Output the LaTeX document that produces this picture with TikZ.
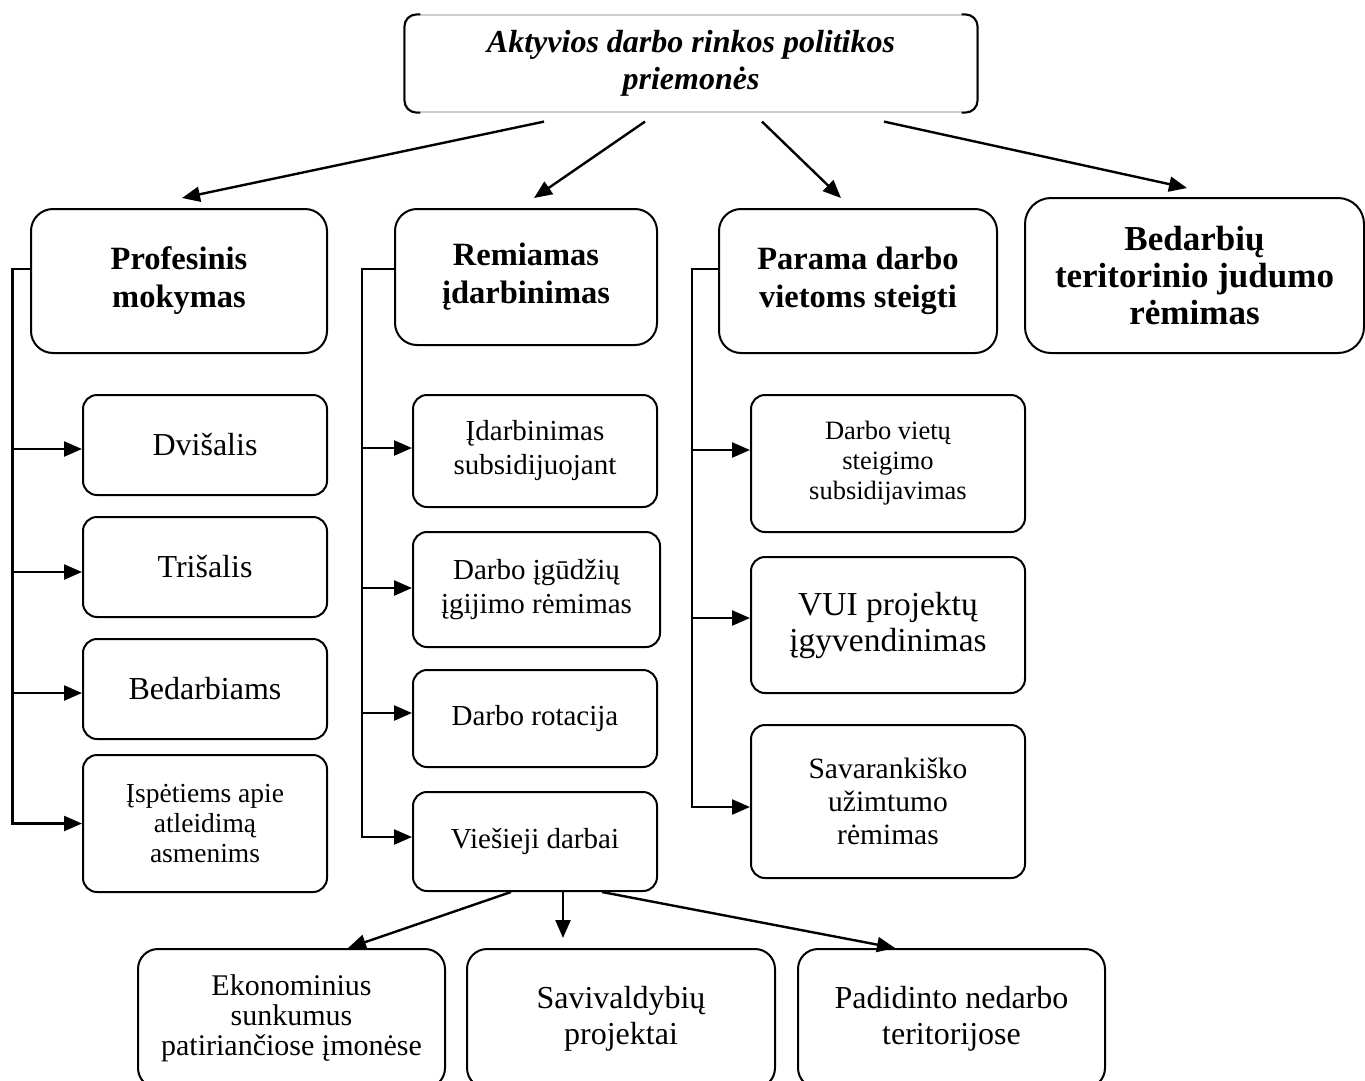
\documentclass[tikz,border=0pt]{standalone}
\usepackage{fontspec}
\setmainfont{Liberation Serif}
\usetikzlibrary{arrows.meta}
\tikzset{
  box/.style={draw, line width=2pt, rounded corners=14pt, align=center, inner sep=4pt},
  topbox/.style={draw=gray!60, line width=1.2pt, rounded corners=12pt, align=center,
    font=\bfseries\itshape\fontsize{32}{37}\selectfont},
  headbox/.style={box, rounded corners=22pt, font=\bfseries\fontsize{32.5}{38}\selectfont},
  bigbox/.style={box, font=\fontsize{32}{36}\selectfont},
  midbox/.style={box, font=\fontsize{29}{34}\selectfont},
  smallbox/.style={box, font=\fontsize{26.5}{30}\selectfont},
  arr/.style={line width=2.4pt, -{Triangle[length=18pt,width=15pt]}},
}
\begin{document}
\begin{tikzpicture}[x=1pt, y=-1pt]
  \useasboundingbox (0,0) rectangle (1365,1080);

  % top box
  \node[topbox, minimum width=572pt, minimum height=97pt] (top) at (691,63.5)
    {Aktyvios darbo rinkos politikos\\priemonės};
  \draw[line width=2pt, rounded corners=12pt] ([xshift=16pt]top.north west) -- (top.north west)
    -- (top.south west) -- ([xshift=16pt]top.south west);
  \draw[line width=2pt, rounded corners=12pt] ([xshift=-16pt]top.north east) -- (top.north east)
    -- (top.south east) -- ([xshift=-16pt]top.south east);

  % headers
  \node[headbox, minimum width=296pt, minimum height=144pt] (prof) at (179,281) {Profesinis\\mokymas};
  \node[headbox, minimum width=262pt, minimum height=136pt] (rem) at (526,277) {Remiamas\\įdarbinimas};
  \node[headbox, minimum width=278pt, minimum height=144pt] (param) at (858,281) {Parama darbo\\vietoms steigti};
  \node[headbox, minimum width=339pt, minimum height=155pt, rounded corners=26pt,
    font=\bfseries\fontsize{35}{37}\selectfont] (bedarb) at (1194.5,275.5)
    {Bedarbių\\teritorinio judumo\\rėmimas};

  % profesinis mokymas
  \node[bigbox, minimum width=244pt, minimum height=100pt] (dvi) at (205,445) {Dvišalis};
  \node[bigbox, minimum width=244pt, minimum height=100pt] (tri) at (205,567) {Trišalis};
  \node[bigbox, minimum width=244pt, minimum height=100pt] (bedarbiams) at (205,689) {Bedarbiams};
  \node[smallbox, minimum width=244pt, minimum height=137pt, font=\fontsize{27.5}{30}\selectfont] (ispet) at (205,823.5)
    {Įspėtiems apie\\atleidimą\\asmenims};

  % remiamas idarbinimas
  \node[midbox, minimum width=244pt, minimum height=112pt] (idarb) at (535,451) {Įdarbinimas\\subsidijuojant};
  \node[midbox, minimum width=247pt, minimum height=115pt] (igud) at (536.5,589.5) {Darbo įgūdžių\\įgijimo rėmimas};
  \node[midbox, minimum width=244pt, minimum height=97pt] (rot) at (535,718.5) {Darbo rotacija};
  \node[midbox, minimum width=244pt, minimum height=99pt] (vies) at (535,841.5) {Viešieji darbai};

  % parama darbo vietoms steigti
  \node[smallbox, minimum width=274pt, minimum height=137pt] (dvsub) at (888,463.5)
    {Darbo vietų\\steigimo\\subsidijavimas};
  \node[bigbox, minimum width=274pt, minimum height=136pt, font=\fontsize{33.5}{36}\selectfont] (vui) at (888,625)
    {VUI projektų\\įgyvendinimas};
  \node[midbox, minimum width=274pt, minimum height=153pt, font=\fontsize{29.5}{33}\selectfont] (savar) at (888,801.5)
    {Savarankiško\\užimtumo\\rėmimas};

  % viesieji darbai
  \node[smallbox, minimum width=307pt, minimum height=139pt, rounded corners=20pt,
    font=\fontsize{30}{30}\selectfont] (ekon) at (291.5,1018.5)
    {Ekonominius\\sunkumus\\patiriančiose įmonėse};
  \node[bigbox, minimum width=308pt, minimum height=139pt, rounded corners=20pt] (saviv) at (621,1018.5)
    {Savivaldybių\\projektai};
  \node[bigbox, minimum width=307pt, minimum height=139pt, rounded corners=20pt] (padid) at (951.5,1018.5)
    {Padidinto nedarbo\\teritorijose};

  % arrows from the top
  \draw[arr] ([xshift=-147pt,yshift=-9pt]top.south) -- ([xshift=3pt,yshift=10pt]prof.north);
  \draw[arr] ([xshift=-46pt,yshift=-9pt]top.south) -- ([xshift=8pt,yshift=10pt]rem.north);
  \draw[arr] ([xshift=71pt,yshift=-9pt]top.south) -- ([xshift=-17pt,yshift=10pt]param.north);
  \draw[arr] ([xshift=193pt,yshift=-9pt]top.south) -- ([xshift=-7.5pt,yshift=9pt]bedarb.north);

  % left bracket
  \coordinate (pk) at (12.5,269);
  \draw[arr] ([yshift=12pt]prof.west) -- (pk) |- (ispet.west);
  \foreach \b/\s in {dvi/-4, tri/-5, bedarbiams/-4}
    \draw[arr] ([yshift=\s pt]\b.west -| pk) -- ([yshift=\s pt]\b.west);

  % middle bracket
  \coordinate (rk) at (362,269);
  \draw[arr] ([yshift=8pt]rem.west) -- (rk) |- ([yshift=4.5pt]vies.west);
  \foreach \b/\s in {idarb/3, igud/1.5, rot/5.5}
    \draw[arr] ([yshift=\s pt]\b.west -| rk) -- ([yshift=\s pt]\b.west);

  % right bracket
  \coordinate (pv) at (692,269);
  \draw[arr] ([yshift=12pt]param.west) -- (pv) |- ([yshift=-5.5pt]savar.west);
  \foreach \b/\s in {dvsub/13.5, vui/7}
    \draw[arr] ([yshift=\s pt]\b.west -| pv) -- ([yshift=\s pt]\b.west);

  % arrows to the bottom row
  \draw[arr] ([xshift=-24pt]vies.south) -- ([xshift=56.5pt]ekon.north);
  \draw[arr] ([xshift=28pt]vies.south) -- ([xshift=-58pt,yshift=10pt]saviv.north);
  \draw[arr] ([xshift=67pt]vies.south) -- ([xshift=-56.5pt]padid.north);
\end{tikzpicture}
\end{document}
